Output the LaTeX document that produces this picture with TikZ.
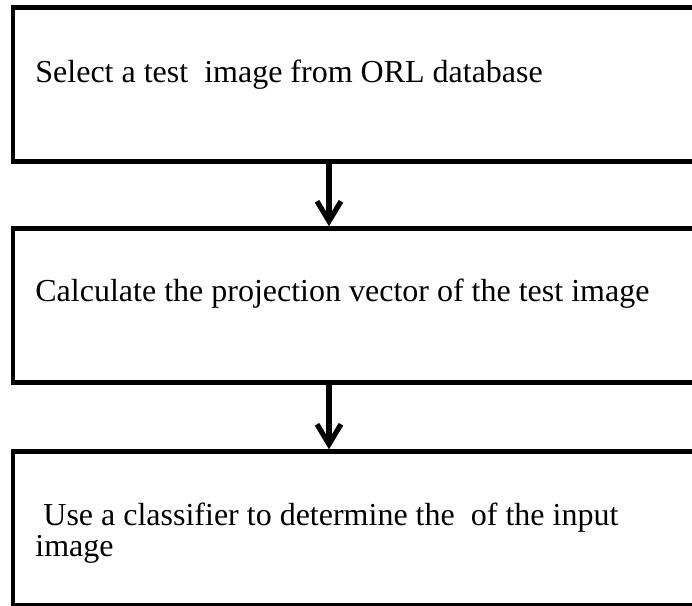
\documentclass[tikz,border=0pt]{standalone}
\usepackage{fontspec}
\setmainfont{Liberation Serif}
\usetikzlibrary{arrows.meta}

\begin{document}
\begin{tikzpicture}[x=0.5pt,y=-0.5pt]
            \useasboundingbox (0,0) rectangle (692,606);
            \begin{scope}[every node/.style={rectangle,draw,line width=2.2pt,minimum width=346pt,minimum height=77pt,inner sep=0pt}]
                \node (select) at (359,84.5) {};
                \node (calc) at (359,305.5) {};
                \node (classify) at (359,528.5) {};
            \end{scope}
            \begin{scope}[every node/.style={anchor=base west,inner sep=0pt,align=left,font=\fontsize{16pt}{15.5pt}\selectfont}]
                \node (selecttext) at (35,82) {Select a test\ \ image from ORL database};
                \node (calctext) at (35,301) {Calculate the projection vector of the test image};
                \node (classifytext) at (35,556) {\ Use a classifier to determine the\ \ of the input\\image};
            \end{scope}
            \begin{scope}[every edge/.style={draw,line width=2.6pt,-{Straight Barb[length=10pt,width=12pt]}}]
                \path
                    ([xshift=-15pt]select.south) edge ([xshift=-15pt]calc.north)
                    ([xshift=-15pt]calc.south) edge ([xshift=-15pt]classify.north);
            \end{scope}
        \end{tikzpicture}
\end{document}
